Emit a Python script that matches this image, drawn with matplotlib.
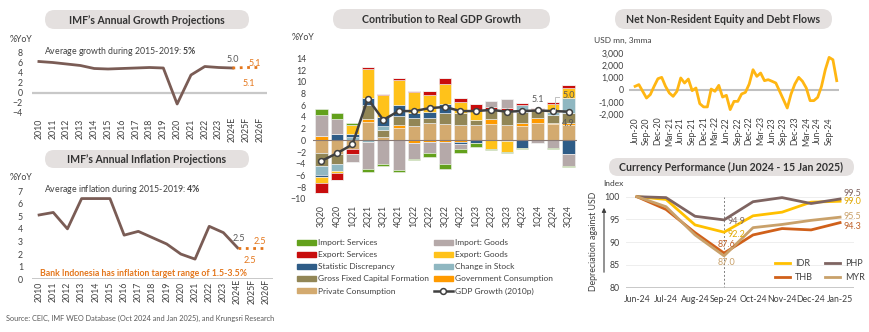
import matplotlib
matplotlib.use("Agg")
import matplotlib.pyplot as plt
from matplotlib.patches import FancyBboxPatch, FancyArrowPatch, Patch
from matplotlib.lines import Line2D
import numpy as np

plt.rcParams['font.family'] = ['Lato', 'DejaVu Sans']
plt.rcParams['mathtext.fontset'] = 'custom'
plt.rcParams['mathtext.rm'] = 'Lato'
plt.rcParams['mathtext.bf'] = 'Lato:bold'

W, H = 870, 332
TXT = '#404040'
BROWN = '#7a5c55'
ORANGE = '#e4761b'

# ---------------- data ----------------
years = ['2010', '2011', '2012', '2013', '2014', '2015', '2016', '2017', '2018',
         '2019', '2020', '2021', '2022', '2023', '2024E', '2025F', '2026F']
growth = [6.3, 6.1, 5.8, 5.5, 4.9, 4.8, 4.9, 5.0, 5.1, 5.0, -2.2, 3.6, 5.3, 5.1, 5.0]
growth_proj = [5.0, 5.1, 5.1]
inflation = [5.1, 5.3, 4.0, 6.4, 6.4, 6.4, 3.5, 3.8, 3.3, 2.8, 2.0, 1.6, 4.2, 3.7, 2.5]
inflation_proj = [2.5, 2.5, 2.5]

quarters = ['3Q20', '4Q20', '1Q21', '2Q21', '3Q21', '4Q21', '1Q22', '2Q22', '3Q22',
            '4Q22', '1Q23', '2Q23', '3Q23', '4Q23', '1Q24', '2Q24', '3Q24']
private_cons = [-2.2, -2.3, -1.4, 3.1, 0.6, 2.1, 2.45, 2.9, 2.8, 2.6, 2.6, 2.8, 2.7, 2.5, 2.9, 2.8, 2.6]
gov_cons = [0.7, 0.0, 0.0, 0.6, 0.0, 0.6, -0.4, -0.3, -0.2, -0.2, 0.0, 0.8, -0.1, 0.4, 1.0, 0.1, 0.4]
gfcf = [-2.1, -1.7, -0.1, 2.3, 1.1, 1.5, 1.3, 1.0, 1.9, 2.1, 0.9, 1.6, 2.3, 1.9, 1.4, 1.4, 1.6]
stock = [-1.6, -1.2, 0.6, -0.2, 0.7, 0.0, 0.0, 0.0, 0.0, 0.0, 0.0, 0.0, 0.0, 1.2, 0.0, 0.5, 2.7]
stat_disc = [-0.3, 1.1, 0.5, 1.2, 1.6, 1.8, 0.85, 0.9, 1.5, -0.5, -0.5, 0.0, 0.0, -1.25, 0.0, 0.0, -2.3]
exp_goods = [-1.1, -0.4, 1.5, 5.0, 3.7, 4.3, 3.6, 2.9, 3.5, 1.8, 1.7, -1.4, -1.9, 0.0, 0.0, 1.4, 1.7]
exp_serv = [-1.6, -1.2, -0.9, 0.3, 0.2, 0.3, 0.3, 0.65, 0.9, 0.7, 1.0, 0.5, 0.5, 0.3, 0.3, 0.35, 0.4]
imp_goods = [3.6, 2.5, -1.3, -4.6, -4.0, -5.0, -2.7, -1.9, -3.8, -0.8, 0.0, 1.1, 1.5, 0.0, -0.4, -1.3, -2.0]
imp_serv = [1.05, 1.0, 0.4, -0.55, -0.3, -0.4, -0.3, -0.6, -0.8, -0.6, -0.6, -0.2, -0.2, -0.2, -0.05, -0.2, -0.2]
gdp = [-3.5, -2.2, -0.7, 7.1, 3.5, 5.0, 5.0, 5.5, 5.7, 5.0, 5.0, 5.2, 4.9, 5.0, 5.1, 5.0, 4.9]

flow_ticks = ['Jun-20', 'Sep-20', 'Dec-20', 'Mar-21', 'Jun-21', 'Sep-21', 'Dec-21', 'Mar-22',
              'Jun-22', 'Sep-22', 'Dec-22', 'Mar-23', 'Jun-23', 'Sep-23', 'Dec-23', 'Mar-24',
              'Jun-24', 'Sep-24']
flows = [270, 410, -135, -680, -400, 270, 890, 1000, 270, -270, -540, -135, 950, 540, 860,
         -80, 135, -1135, -1400, -1400, 50, -135, 350, -600, -460, -1620, -950, -950, -350,
         -220, 460, 1620, 1080, 1350, 730, 810, 680, 540, -135, -810, -1490, -350, 460, 1000,
         680, 135, -890, -890, -620, 270, 1620, 2620, 2430, 730]

months = ['Jun-24', 'Jul-24', 'Aug-24', 'Sep-24', 'Oct-24', 'Nov-24', 'Dec-24', 'Jan-25']
idr = [100, 99.4, 93.8, 92.2, 95.8, 96.6, 98.8, 99.0]
php = [100, 99.8, 95.7, 94.9, 98.9, 99.8, 98.5, 99.5]
thb = [100, 97.2, 92.1, 87.6, 91.6, 93.0, 92.7, 94.3]
myr = [100, 97.8, 91.6, 87.0, 93.2, 93.9, 94.8, 95.5]

fig = plt.figure(figsize=(W / 100, H / 100), dpi=100)


def px_axes(x0, y0, x1, y1):
    return fig.add_axes([x0 / W, 1 - y1 / H, (x1 - x0) / W, (y1 - y0) / H])


def ftext(x, y, s, **kw):
    kw.setdefault('color', TXT)
    kw.setdefault('va', 'center')
    fig.text(x / W, 1 - y / H, s, **kw)


def pill(x0, y0, x1, y1, title):
    h = (y1 - y0) / 100
    box = FancyBboxPatch((x0 / 100, (H - y1) / 100), (x1 - x0) / 100, h,
                         boxstyle="round,pad=0,rounding_size=%f" % (h / 2),
                         transform=fig.dpi_scale_trans, fc='#e4e0df', ec='none')
    fig.patches.append(box)
    ftext((x0 + x1) / 2, (y0 + y1) / 2 + 0.5, title, ha='center', size=7.6,
          fontweight='bold', color='#333333')


def style(ax, xpad, ypad, size=6.3):
    for s in ax.spines.values():
        s.set_visible(False)
    ax.tick_params(length=0, labelsize=size, labelcolor=TXT)
    ax.tick_params(axis='x', pad=xpad)
    ax.tick_params(axis='y', pad=ypad)


def rot_labels(ax):
    for lab in ax.get_xticklabels():
        lab.set_rotation(90)
        lab.set_va('center')


################
# IMF growth projections
ax1 = px_axes(32, 53, 267, 113)
ax1.axhline(0, color='#c8c8c8', lw=1.6)
ax1.plot(range(len(growth)), growth, color=BROWN, lw=2)
ax1.plot(range(14, 17), growth_proj, ':', color=ORANGE, lw=2)
ax1.set_xlim(-0.5, 16.5)
ax1.set_ylim(-4, 8)
ax1.set_yticks(range(-4, 9, 2))
ax1.set_xticks(range(17), years)
style(ax1, 11.5, 6.5)
rot_labels(ax1)
ax1.text(14, growth[14] + 1.6, '%.1f' % growth[14], ha='center', va='center', size=6.5, color='#595959')
ax1.text(15.65, growth_proj[2] + 0.9, '%.1f' % growth_proj[2], ha='center', va='center', size=6.5, color=ORANGE)
ax1.text(15.2, growth_proj[1] - 3.1, '%.1f' % growth_proj[1], ha='center', va='center', size=6.5, color=ORANGE)

pill(45, 10, 249, 29, "IMF\u2019s Annual Growth Projections")
ftext(10, 40, '%YoY', size=6.3)
ftext(44, 52, r'Average growth during 2015-2019: $\bf{5\%}$', size=6.3)

################
# IMF inflation projections
ax5 = px_axes(32, 191, 273, 279.3)
ax5.axhline(0, color='#c8c8c8', lw=1.4)
ax5.plot(range(len(inflation)), inflation, color=BROWN, lw=2)
ax5.plot(range(14, 17), inflation_proj, ':', color=ORANGE, lw=2)
ax5.set_xlim(-0.5, 16.5)
ax5.set_ylim(0, 7)
ax5.set_yticks(range(0, 8))
ax5.set_xticks(range(17), years)
style(ax5, 9, 6.5)
rot_labels(ax5)
ax5.text(14.1, inflation[14] + 0.7, '%.1f' % inflation[14], ha='center', va='center', size=6.5, color='#595959')
ax5.text(15.56, inflation_proj[2] + 0.5, '%.1f' % inflation_proj[2], ha='center', va='center', size=6.5, color=ORANGE)
ax5.text(14.9, inflation_proj[1] - 1.0, '%.1f' % inflation_proj[1], ha='center', va='center', size=6.5, color=ORANGE)

pill(45, 150, 249, 168, "IMF\u2019s Annual Inflation Projections")
ftext(10, 177, '%YoY', size=6.3)
ftext(44, 189, r'Average inflation during 2015-2019: $\bf{4\%}$', size=6.3)
ftext(40, 273, 'Bank Indonesia has inflation target range of 1.5-3.5%', size=6.3,
      fontweight='bold', color=ORANGE)
ftext(6, 318, 'Source: CEIC, IMF WEO Database (Oct 2024 and Jan 2025), and Krungsri Research',
      size=5.3, color='#595959')

################
# Contribution to real GDP growth (stacked, positives up / negatives down)
ax2 = px_axes(313, 58.3, 577, 199)
components = [
    (private_cons, '#d3aa6f', 'Private Consumption'),
    (gov_cons, '#ff9a00', 'Government Consumption'),
    (gfcf, '#928656', 'Gross Fixed Capital Formation'),
    (stock, '#8fb7c1', 'Change in Stock'),
    (stat_disc, '#2e5c87', 'Statistic Discrepancy'),
    (exp_goods, '#ffc21a', 'Export: Goods'),
    (exp_serv, '#c80d0d', 'Export: Services'),
    (imp_goods, '#b5a9a9', 'Import: Goods'),
    (imp_serv, '#63a11c', 'Import: Services'),
]
xq = np.arange(len(quarters))
pos_base = np.zeros(len(quarters))
neg_base = np.zeros(len(quarters))
handles = {}
for vals, col, name in components:
    v = np.array(vals, dtype=float)
    p = np.where(v > 0, v, 0)
    n = np.where(v < 0, v, 0)
    ax2.bar(xq, p, 0.8, bottom=pos_base, color=col, ec='#f2f2f2', lw=0.4, zorder=2)
    ax2.bar(xq, n, 0.8, bottom=neg_base, color=col, ec='#f2f2f2', lw=0.4, zorder=2)
    pos_base += p
    neg_base += n
    handles[name] = Patch(color=col)
ax2.axhline(0, color='#8a7a74', lw=0.8, zorder=3)
ax2.plot(xq, gdp, color='#404040', lw=1.8, marker='o', ms=4.2, mfc='white',
         mec='#404040', mew=1.1, zorder=5)
ax2.set_xlim(-0.55, 16.55)
ax2.set_ylim(-10, 14)
ax2.set_yticks(range(-10, 15, 2))
ax2.set_xticks(xq, quarters)
style(ax2, 12, 5)
rot_labels(ax2)
ax2.text(14, gdp[14] + 1.8, '%.1f' % gdp[14], ha='center', va='center', size=6.5, color='#595959', zorder=6)
ax2.plot([15.13, 15.13, 15.4], [gdp[15] + 0.25, gdp[15] + 2.4, gdp[15] + 2.4], color='#c0c0c0', lw=0.7, zorder=6)
ax2.text(16, gdp[15] + 2.7, '%.1f' % gdp[15], ha='center', va='center', size=6.5, color='#595959', zorder=6)
ax2.text(16, gdp[16] - 2.1, '%.1f' % gdp[16], ha='center', va='center', size=6.5, color='#595959', zorder=6)

handles['GDP Growth (2010p)'] = Line2D([], [], color='#404040', lw=1.8, marker='o', ms=4.2,
                                       mfc='white', mec='#404040', mew=1.1)
order = ['Import: Services', 'Export: Services', 'Statistic Discrepancy',
         'Gross Fixed Capital Formation', 'Private Consumption',
         'Import: Goods', 'Export: Goods', 'Change in Stock',
         'Government Consumption', 'GDP Growth (2010p)']
fig.legend([handles[k] for k in order], order, ncol=2, frameon=False, fontsize=6,
           loc='upper left', bbox_to_anchor=(297 / W, 1 - 239 / H),
           borderpad=0, borderaxespad=0, handlelength=2.3, handleheight=0.55,
           handletextpad=0.2, labelspacing=0.62, columnspacing=0.6, labelcolor=TXT)

pill(333, 9, 550, 29, 'Contribution to Real GDP Growth')
ftext(292, 38, '%YoY', size=6.3)

################
# Net non-resident equity and debt flows
ax3 = px_axes(629, 52.7, 839, 114.3)
ax3.axhline(0, color='#c0c0c0', lw=1.5)
ax3.plot(range(len(flows)), flows, color='#ffb612', lw=2)
ax3.set_xlim(-1.6, 53.6)
ax3.set_ylim(-2000, 3000)
ax3.set_yticks(range(-2000, 3001, 1000), ['{:,}'.format(v) for v in range(-2000, 3001, 1000)])
ax3.set_xticks(range(0, len(flows), 3), flow_ticks)
style(ax3, 12, 3.6)
rot_labels(ax3)

pill(615, 9, 832, 29, 'Net Non-Resident Equity and Debt Flows')
ftext(594, 40, 'USD mn, 3mma', size=6)

################
# Currency performance
ax4 = px_axes(626, 196.7, 854, 287.7)
for yv in range(85, 101, 5):
    ax4.axhline(yv, color='#ebebeb', lw=0.6, zorder=0)
ax4.axhline(80, color='#bfbfbf', lw=1.2)
ax4.axvline(3, color='#7f7f7f', lw=0.7, ls=(0, (2, 2)), zorder=1)
xm = range(len(months))
l_idr, = ax4.plot(xm, idr, color='#ffc000', lw=2, clip_on=False, zorder=3)
l_php, = ax4.plot(xm, php, color='#7e6461', lw=2, clip_on=False, zorder=3)
l_thb, = ax4.plot(xm, thb, color='#d0601a', lw=2, clip_on=False, zorder=3)
l_myr, = ax4.plot(xm, myr, color='#c9a16a', lw=2, clip_on=False, zorder=3)
ax4.set_xlim(-0.38, 7.48)
ax4.set_ylim(80, 100)
ax4.set_yticks(range(80, 101, 5))
ax4.set_xticks(xm, months)
style(ax4, 5, 4.3)
lab = dict(ha='center', va='center', size=6.5, clip_on=False)
ax4.text(3.41, php[3] - 0.25, '%.1f' % php[3], color='#7e6461', **lab)
ax4.text(3.41, idr[3] - 0.5, '%.1f' % idr[3], color='#e0a800', **lab)
ax4.text(3.1, thb[3] + 2.0, '%.1f' % thb[3], color='#c0622a', **lab)
ax4.text(3.07, myr[3] - 1.4, '%.1f' % myr[3], color='#c9a16a', **lab)
ax4.text(7.41, php[7] + 1.25, '%.1f' % php[7], color='#7e6461', **lab)
ax4.text(7.41, idr[7] - 0.1, '%.1f' % idr[7], color='#e0a800', **lab)
ax4.text(7.41, myr[7] + 0.1, '%.1f' % myr[7], color='#c9a16a', **lab)
ax4.text(7.41, thb[7] - 0.9, '%.1f' % thb[7], color='#c0622a', **lab)
ax4.legend([l_idr, l_thb, l_php, l_myr], ['IDR', 'THB', 'PHP', 'MYR'], ncol=2,
           frameon=False, fontsize=6.5, loc='upper left',
           bbox_to_anchor=((775 - 626) / 228, 1 - (259 - 196.7) / 91),
           borderpad=0, borderaxespad=0, handlelength=1.7, handletextpad=0.55,
           labelspacing=0.55, columnspacing=1.3, labelcolor=TXT)

pill(609, 158, 854, 176, 'Currency Performance (Jun 2024 - 15 Jan 2025)')
ftext(603, 183, 'Index', size=6)
ftext(594, 241, 'Depreciation against USD', size=6.3, rotation=90, ha='center')
fig.add_artist(FancyArrowPatch((604 / W, 1 - 275 / H), (604 / W, 1 - 205 / H),
                               transform=fig.transFigure, arrowstyle='-|>',
                               mutation_scale=6, lw=0.8, color='#404040'))

fig.savefig('out.png', dpi=100)
